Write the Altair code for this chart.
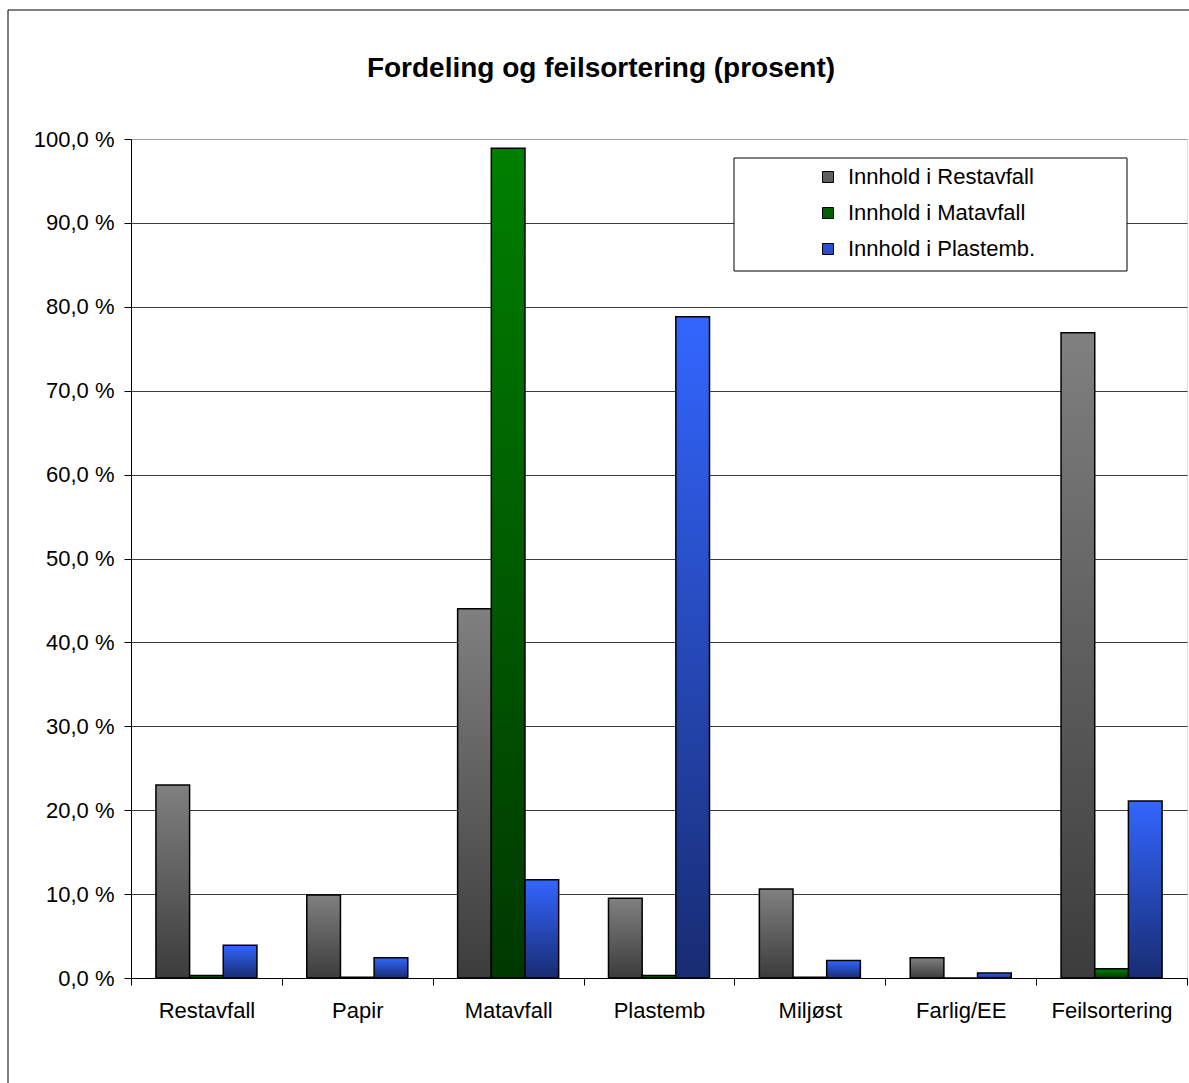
import altair as alt
import pandas as pd

categories = ["Restavfall", "Papir", "Matavfall", "Plastemb", "Miljøst", "Farlig/EE", "Feilsortering"]
series = ["Innhold i Restavfall", "Innhold i Matavfall", "Innhold i Plastemb."]
restavfall_vals = [23.0, 9.9, 44.0, 9.5, 10.6, 2.4, 76.9]
matavfall_vals = [0.3, 0.1, 98.9, 0.3, 0.1, 0.0, 1.1]
plastemb_vals = [3.9, 2.4, 11.7, 78.8, 2.1, 0.6, 21.1]

rows = []
for s, vals in zip(series, [restavfall_vals, matavfall_vals, plastemb_vals]):
    for c, v in zip(categories, vals):
        rows.append({"kategori": c, "serie": s, "verdi": v})
df = pd.DataFrame(rows)

FONT = "Liberation Sans, Arial, sans-serif"
W, H = 1056, 839

grads = {
    series[0]: ("#808080", "#3c3c3c"),
    series[1]: ("#008000", "#003800"),
    series[2]: ("#3366ff", "#182c72"),
}
legend_cols = ["#606060", "#006000", "#2a50d0"]

x_enc = alt.X(
    "kategori:N", sort=categories,
    scale=alt.Scale(paddingInner=0, paddingOuter=0),
    axis=alt.Axis(title=None, labelAngle=0, labelFontSize=22, labelFont=FONT,
                  labelColor="black", tickBand="extent", tickSize=7,
                  tickColor="black", domainColor="black", labelPadding=15,
                  grid=False),
)
xo_enc = alt.XOffset("serie:N", sort=series,
                     scale=alt.Scale(domain=series, paddingInner=0, paddingOuter=0.74))
y_enc = alt.Y(
    "verdi:Q",
    scale=alt.Scale(domain=[0, 100], nice=False),
    axis=alt.Axis(title=None, values=list(range(0, 101, 10)),
                  labelExpr="replace(format(datum.value, '.1f'), '.', ',') + ' %'",
                  labelFontSize=22, labelFont=FONT, labelColor="black",
                  tickSize=7, tickColor="black", domainColor="black",
                  labelPadding=10, grid=True,
                  gridColor={"condition": {"test": "datum.value >= 100", "value": "#a0a0a0"},
                             "value": "#3c3c3c"}),
)

base = alt.Chart(df)

layers = []
one = pd.DataFrame({"a": [0]})
outer = alt.Chart(one).mark_rect(fill=None, stroke="black", strokeWidth=1).encode(
    x=alt.value(-123), x2=alt.value(W + 30), y=alt.value(-129), y2=alt.value(H + 200))
layers.append(outer)

for s in series:
    top, bot = grads[s]
    g = alt.Gradient(gradient="linear",
                     stops=[alt.GradientStop(color=top, offset=0),
                            alt.GradientStop(color=bot, offset=1)],
                     x1=0, x2=0, y1=0, y2=1)
    layers.append(
        base.transform_filter(alt.datum.serie == s)
        .mark_bar(fill=g, stroke="black", strokeWidth=1.5)
        .encode(x=x_enc, xOffset=xo_enc, y=y_enc)
    )

legend_box = alt.Chart(one).mark_rect(fill="white", stroke="black", strokeWidth=1).encode(
    x=alt.value(603), x2=alt.value(996), y=alt.value(19), y2=alt.value(132))
layers.append(legend_box)

legend_layer = base.mark_square(opacity=0).encode(
    x=x_enc, xOffset=xo_enc, y=y_enc,
    fill=alt.Fill("serie:N", sort=series,
                  scale=alt.Scale(domain=series, range=legend_cols),
                  legend=alt.Legend(orient="none", legendX=686, legendY=27, title=None,
                                    labelFontSize=22, labelFont=FONT, labelColor="black",
                                    labelLimit=400,
                                    symbolType="square", symbolSize=121,
                                    symbolStrokeColor="black", symbolStrokeWidth=1,
                                    symbolOpacity=1, rowPadding=14, labelOffset=9,
                                    padding=0)),
)
layers.append(legend_layer)

chart = alt.layer(*layers).properties(
    width=W, height=H,
    title=alt.TitleParams("Fordeling og feilsortering (prosent)", fontSize=28, font=FONT,
                          fontWeight="bold", anchor="middle", dx=-58, offset=0, dy=95,
                          baseline="alphabetic", color="black"),
    autosize=alt.AutoSizeParams(type="none"),
    padding={"left": 131, "top": 139, "right": 2, "bottom": 105},
).configure_view(fill="#c0c0c0", stroke="#8c8c8c", strokeWidth=1
).configure(background="white")

chart.save("out.html", embed_options={"renderer": "svg", "actions": False})
